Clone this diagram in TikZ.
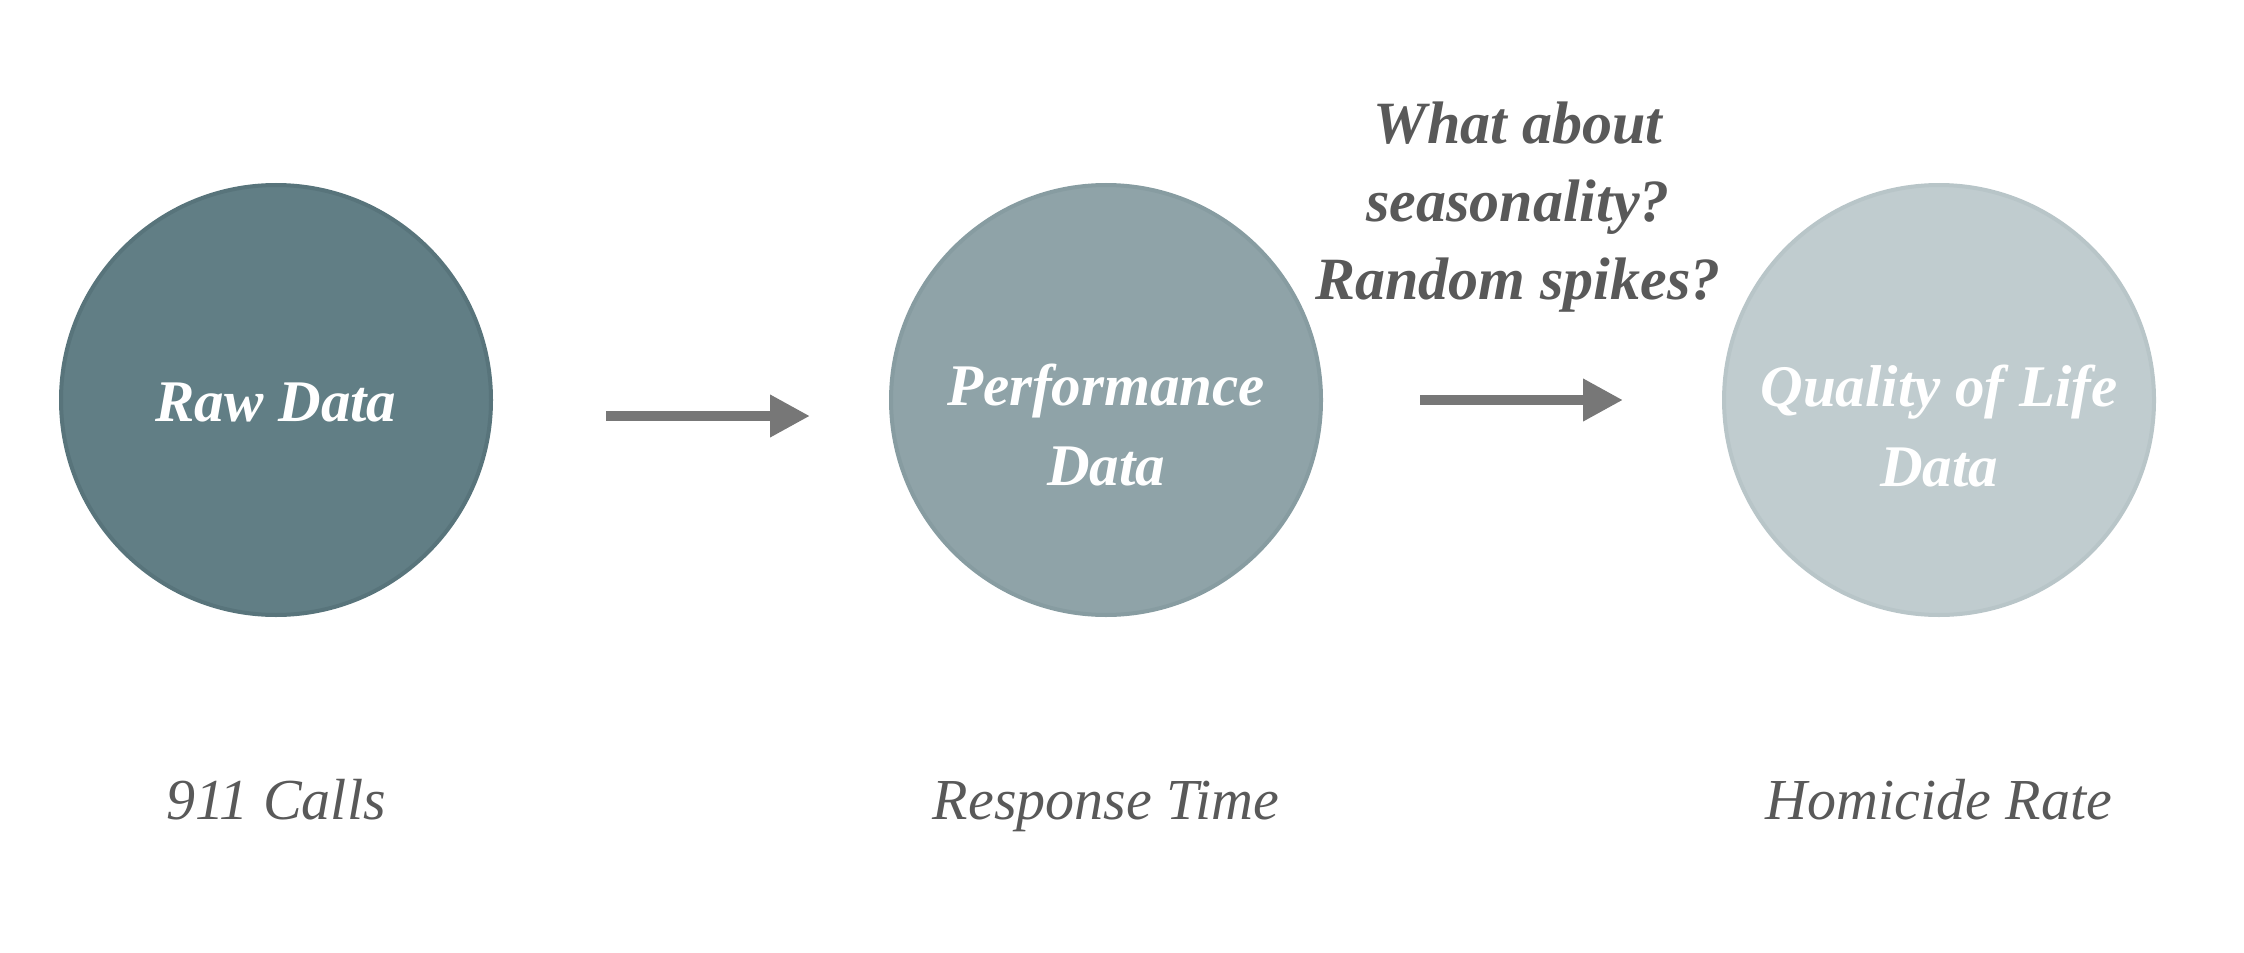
\documentclass[tikz,border=0pt]{standalone}
\usepackage{fontspec}
\setmainfont{Liberation Serif}
\usetikzlibrary{positioning,arrows.meta}

\definecolor{rawfill}{HTML}{617E85}
\definecolor{rawedge}{HTML}{58747B}
\definecolor{perffill}{HTML}{8FA3A8}
\definecolor{perfedge}{HTML}{879CA1}
\definecolor{qualfill}{HTML}{C0CCCF}
\definecolor{qualedge}{HTML}{B8C5C8}
\definecolor{arrowgray}{HTML}{777777}
\definecolor{textgray}{HTML}{595959}

\tikzset{
  blob/.style={circle, minimum size=107.5pt, inner sep=0pt, line width=1pt},
  blobtext/.style={text=white, align=center, inner sep=0pt,
    font=\fontsize{14.75}{20}\selectfont\bfseries\itshape},
  question/.style={text=textgray, align=center, inner sep=0pt,
    font=\fontsize{15}{19.6}\selectfont\bfseries\itshape},
  caption/.style={text=textgray, inner sep=0pt, text height=10pt, text depth=3pt,
    font=\fontsize{14.5}{18}\selectfont\itshape},
  flow/.style={-{Triangle[length=10pt,width=10pt]}, line width=2.5pt, draw=arrowgray},
}

\begin{document}
\begin{tikzpicture}[x=0.25pt,y=-0.25pt]
\useasboundingbox (0,0) rectangle (2244,952);

  \node[blob, fill=rawfill, draw=rawedge] (raw) at (276,400) {};
  \node[blob, fill=perffill, draw=perfedge] (perf) at (1106,400) {};
  \node[blob, fill=qualfill, draw=qualedge] (qual) at (1939,400) {};

  \node[blobtext] (rawtxt) at (276,402) {Raw Data};
  \node[blobtext] (perftxt) at (1106,425) {Performance\\Data};
  \node[blobtext] (qualtxt) at (1939,426) {Quality of Life\\Data};

  \draw[flow, shorten <=28.25pt, shorten >=19.75pt] ([yshift=-4pt]raw.east) -- ([yshift=-4pt]perf.west);
  \draw[flow, shorten <=24.25pt, shorten >=24.75pt] (perf.east) -- (qual.west);

  \node[question] (ask) at (1518,207) {What about\\seasonality?\\Random spikes?};

  \node[caption, below=40.5pt of raw] (calls) {911 Calls};
  \node[caption, below=40.5pt of perf] (resp) {Response Time};
  \node[caption, below=40.5pt of qual] (homi) {Homicide Rate};

\end{tikzpicture}
\end{document}
